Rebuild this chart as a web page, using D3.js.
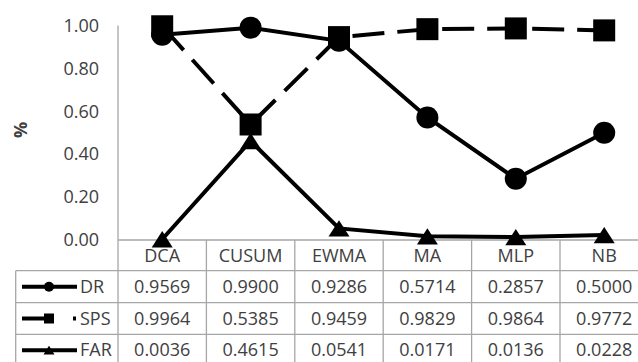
<!DOCTYPE html>
<html>
<head>
<meta charset="utf-8">
<script src="https://cdn.jsdelivr.net/npm/d3@7"></script>
<style>
  body { margin: 0; background: #fff; }
  svg { display: block; font-family: "Open Sans", sans-serif; }
</style>
</head>
<body>
<svg id="chart" width="638" height="362"></svg>
<script>
// data
var categories = ["DCA", "CUSUM", "EWMA", "MA", "MLP", "NB"];
var drValues  = [0.9569, 0.9900, 0.9286, 0.5714, 0.2857, 0.5000];
var spsValues = [0.9964, 0.5385, 0.9459, 0.9829, 0.9864, 0.9772];
var farValues = [0.0036, 0.4615, 0.0541, 0.0171, 0.0136, 0.0228];
var seriesNames = ["DR", "SPS", "FAR"];
var yTicks = [0, 0.2, 0.4, 0.6, 0.8, 1.0];

var series = [
  {name: seriesNames[0], values: drValues,  marker: "circle",   dash: null},
  {name: seriesNames[1], values: spsValues, marker: "square",   dash: "32,13"},
  {name: seriesNames[2], values: farValues, marker: "triangle", dash: null}
];

var svg = d3.select("#chart");
var gridColor = "#a6a6a6", textColor = "#404040", fs = "18px";

var plotLeft = 118, colW = 88.4;
var x = d3.scaleBand().domain(categories).range([plotLeft, plotLeft + colW * categories.length]);
var y = d3.scaleLinear().domain([0, 1]).range([240, 25.5]);
var cx = function(c) { return x(c) + x.bandwidth() / 2; };

// y axis
var yAxis = d3.axisLeft(y).tickValues(yTicks).tickFormat(d3.format(".2f"))
    .tickSizeInner(0).tickSizeOuter(0).tickPadding(19);
var ga = svg.append("g").attr("transform", "translate(" + plotLeft + ",0)").call(yAxis);
ga.select(".domain").remove();
ga.selectAll("text").attr("fill", textColor).style("font-size", fs)
    .style("font-family", "'Open Sans', sans-serif");

svg.append("text")
    .attr("transform", "translate(21,130) rotate(-90)")
    .attr("text-anchor", "middle")
    .attr("dy", "0.35em")
    .attr("fill", textColor)
    .style("font-size", fs).style("font-weight", "bold")
    .text("%");

// table geometry
var rowTop = [240, 270.7, 302.7, 334.3, 366];
var legLeft = 15.7, right = 638;

var grid = svg.append("g").attr("stroke", gridColor).attr("stroke-width", 1.3);
grid.append("line").attr("x1", plotLeft).attr("x2", plotLeft).attr("y1", y(1)).attr("y2", 362);
grid.append("line").attr("x1", plotLeft).attr("x2", right).attr("y1", rowTop[0]).attr("y2", rowTop[0]);
rowTop.slice(1).forEach(function(r) {
  grid.append("line").attr("x1", legLeft).attr("x2", right).attr("y1", r).attr("y2", r);
});
grid.append("line").attr("x1", legLeft).attr("x2", legLeft).attr("y1", rowTop[1]).attr("y2", 362);
categories.forEach(function(c) {
  grid.append("line").attr("x1", x(c) + colW).attr("x2", x(c) + colW).attr("y1", rowTop[0]).attr("y2", 362);
});

// category header
svg.append("g").selectAll("text").data(categories).join("text")
    .attr("x", cx).attr("y", (rowTop[0] + rowTop[1]) / 2).attr("dy", "0.35em")
    .attr("text-anchor", "middle").attr("fill", textColor).style("font-size", fs)
    .text(function(d) { return d; });

// markers
function drawMarker(g, type, px, py, s) {
  if (type === "circle") {
    g.append("circle").attr("cx", px).attr("cy", py).attr("r", s / 2).attr("fill", "#000");
  } else if (type === "square") {
    g.append("rect").attr("x", px - s / 2).attr("y", py - s / 2).attr("width", s).attr("height", s).attr("fill", "#000");
  } else {
    var h = s * 0.78;
    g.append("path").attr("d", "M" + px + "," + (py - h / 2) + "L" + (px + s / 2) + "," + (py + h / 2) + "L" + (px - s / 2) + "," + (py + h / 2) + "Z")
        .attr("fill", "#000");
  }
}

var line = d3.line().x(function(d) { return cx(d.c); }).y(function(d) { return y(d.v); });

// FAR, then DR, then SPS on top
[2, 0, 1].forEach(function(i) {
  var s = series[i];
  var pts = categories.map(function(c, k) { return {c: c, v: s.values[k]}; });
  var g = svg.append("g");
  g.append("path").datum(pts).attr("d", line)
      .attr("fill", "none").attr("stroke", "#000").attr("stroke-width", 4)
      .attr("stroke-dasharray", s.dash);
  pts.forEach(function(p) {
    drawMarker(g, s.marker, cx(p.c), y(p.v), s.marker === "triangle" ? 21 : 22);
  });
});

// data rows with legend keys
series.forEach(function(s, i) {
  var cy = (rowTop[i + 1] + rowTop[i + 2]) / 2;
  var g = svg.append("g");
  g.append("line").attr("x1", 22).attr("x2", 77).attr("y1", cy).attr("y2", cy)
      .attr("stroke", "#000").attr("stroke-width", 4)
      .attr("stroke-dasharray", s.dash ? "28,23,3,10" : null);
  drawMarker(g, s.marker, 49, cy, s.marker === "triangle" ? 11 : 10);
  g.append("text").attr("x", 80).attr("y", cy).attr("dy", "0.35em")
      .attr("fill", textColor).style("font-size", fs).text(s.name);
  g.selectAll(".val").data(s.values).join("text")
      .attr("x", function(d, k) { return cx(categories[k]); })
      .attr("y", cy).attr("dy", "0.35em").attr("text-anchor", "middle")
      .attr("fill", textColor).style("font-size", fs)
      .text(function(d) { return d3.format(".4f")(d); });
});
</script>
</body>
</html>
